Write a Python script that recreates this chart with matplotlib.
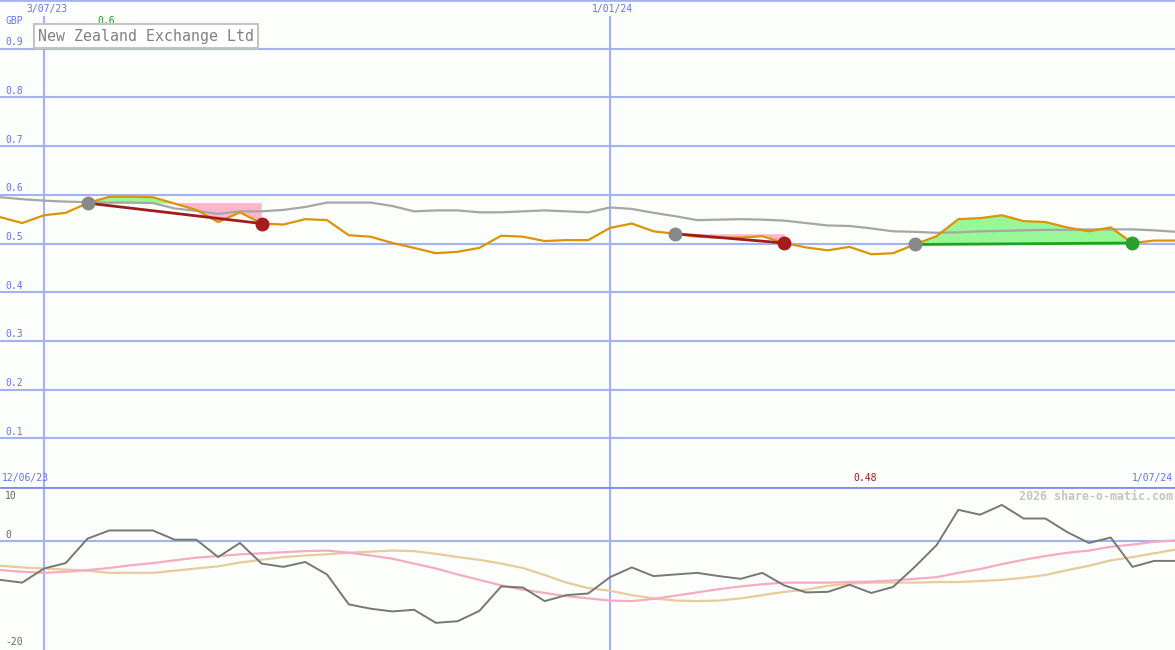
import matplotlib.pyplot as plt
import numpy as np

# -------------------------
# Data (weekly, week 0 = 3/07/23)
# -------------------------
weeks = np.arange(-2, 53)

price = [0.554, 0.542, 0.558, 0.563, 0.583, 0.596, 0.596, 0.595, 0.582, 0.569,
         0.544, 0.564, 0.541, 0.539, 0.550, 0.548, 0.517, 0.514, 0.501, 0.491,
         0.480, 0.483, 0.491, 0.516, 0.514, 0.505, 0.507, 0.507, 0.532, 0.541,
         0.525, 0.520, 0.514, 0.512, 0.512, 0.515, 0.501, 0.492, 0.486, 0.493,
         0.478, 0.480, 0.498, 0.515, 0.550, 0.552, 0.558, 0.546, 0.544, 0.533,
         0.525, 0.533, 0.501, 0.506, 0.506]

avg = [0.595, 0.591, 0.588, 0.586, 0.585, 0.584, 0.584, 0.583, 0.572, 0.567,
       0.561, 0.566, 0.566, 0.569, 0.575, 0.584, 0.584, 0.584, 0.577, 0.566,
       0.568, 0.568, 0.564, 0.564, 0.566, 0.568, 0.566, 0.564, 0.574, 0.571,
       0.563, 0.556, 0.548, 0.549, 0.550, 0.549, 0.547, 0.542, 0.537, 0.536,
       0.531, 0.525, 0.524, 0.522, 0.523, 0.525, 0.526, 0.527, 0.528, 0.528,
       0.529, 0.529, 0.529, 0.527, 0.524]

momentum = [-7.1, -7.6, -5.0, -4.0, 0.5, 2.0, 2.0, 2.0, 0.3, 0.3,
            -2.9, -0.3, -4.1, -4.7, -3.8, -6.1, -11.6, -12.4, -12.9, -12.6,
            -15.0, -14.7, -12.8, -8.3, -8.5, -11.0, -9.9, -9.6, -6.6, -4.8,
            -6.4, -6.1, -5.8, -6.4, -6.9, -5.8, -8.1, -9.4, -9.3, -8.0,
            -9.5, -8.4, -4.7, -0.7, 5.8, 4.9, 6.7, 4.2, 4.2, 1.7,
            -0.3, 0.7, -4.7, -3.6, -3.6]

mom_fast = [-5.3, -5.6, -5.8, -5.6, -5.3, -4.9, -4.4, -4.0, -3.5, -3.0,
            -2.7, -2.4, -2.2, -2.0, -1.8, -1.7, -2.1, -2.6, -3.2, -4.1,
            -5.0, -6.1, -7.1, -8.1, -8.9, -9.5, -10.1, -10.5, -10.9, -11.0,
            -10.6, -10.0, -9.4, -8.8, -8.3, -7.9, -7.6, -7.6, -7.6, -7.5,
            -7.4, -7.2, -6.9, -6.6, -5.8, -5.1, -4.2, -3.4, -2.7, -2.1,
            -1.7, -1.0, -0.6, -0.1, 0.2]

mom_slow = [-4.5, -4.8, -5.0, -5.2, -5.4, -5.8, -5.8, -5.8, -5.4, -5.0,
            -4.6, -3.9, -3.4, -2.9, -2.6, -2.4, -2.1, -1.9, -1.7, -1.8,
            -2.3, -2.9, -3.4, -4.1, -4.9, -6.2, -7.6, -8.6, -9.1, -9.9,
            -10.5, -10.9, -11.0, -10.9, -10.5, -9.9, -9.3, -8.9, -8.2, -7.8,
            -7.6, -7.6, -7.6, -7.5, -7.5, -7.3, -7.1, -6.7, -6.2, -5.3,
            -4.5, -3.5, -2.9, -2.2, -1.5]

# trade signals: start week, end week
sig_start = [2, 29, 40]
sig_end = [10, 34, 50]

price_ticks = [0.1, 0.2, 0.3, 0.4, 0.5, 0.6, 0.7, 0.8, 0.9]
price_tick_labels = ['0.1', '0.2', '0.3', '0.4', '0.5', '0.6', '0.7', '0.8', '0.9']
date_lines = [0, 26]
date_labels = ['3/07/23', '1/01/24']

price = np.array(price)

# -------------------------
# Style
# -------------------------
bg = '#fbfefb'
grid_c = '#a4b2f4'
sep_c = '#7d8cf0'
lab_c = '#6474ec'
mono = 'DejaVu Sans Mono'

fig = plt.figure(figsize=(11.75, 6.5), dpi=100, facecolor=bg)
ax = fig.add_axes([0, 163 / 650, 1, 487 / 650])
ax2 = fig.add_axes([0, 0, 1, 163 / 650])

xlim = (-44 / 21.77, (1175 - 44) / 21.77)
for a in (ax, ax2):
    a.set_facecolor(bg)
    a.set_xlim(*xlim)
    a.set_axis_off()

ax.set_ylim(0, 1.0)
ax2.set_ylim(-20, 10)

# -------------------------
# Grid
# -------------------------
for t in price_ticks:
    ax.axhline(t, color=grid_c, lw=1.5, zorder=0)
ax.axhline(1.0, color=grid_c, lw=2, zorder=0)
for w in date_lines:
    ax.axvline(w, ymax=0.966, color=grid_c, lw=1.5, zorder=0)
    ax2.axvline(w, color=grid_c, lw=1.5, zorder=0)
ax2.axhline(0, color=grid_c, lw=1.5, zorder=0)
ax2.axhline(10, color=sep_c, lw=2, zorder=5)

ytr = ax.get_yaxis_transform()
for t, lbl in zip(price_ticks, price_tick_labels):
    ax.text(0.0045, t + 0.003, lbl, transform=ytr, ha='left', va='bottom',
            color=lab_c, fontsize=7, family=mono)
ax.text(0.0045, 0.957, 'GBP', transform=ytr, ha='left', va='center',
        color=lab_c, fontsize=7, family=mono)
ax.text(97 / 1175, 0.957, '0.6', transform=ytr, ha='left', va='center',
        color='#22a022', fontsize=7, family=mono)

xtr = ax.get_xaxis_transform()
for w, lbl in zip(date_lines, date_labels):
    ax.text(w + 0.12, 0.982, lbl, transform=xtr, ha='center', va='center',
            color=lab_c, fontsize=7, family=mono)

ax.text(0.002, 0.0185, '12/06/23', transform=ax.transAxes, ha='left', va='center',
        color=lab_c, fontsize=7, family=mono, zorder=6)
ax.text(865 / 1175, 0.0185, '0.48', transform=ax.transAxes, ha='center', va='center',
        color='#a01818', fontsize=7, family=mono)
ax.text(0.998, 0.0185, '1/07/24', transform=ax.transAxes, ha='right', va='center',
        color=lab_c, fontsize=7, family=mono)

fig.text(38 / 1175, 1 - 36 / 650, 'New Zealand Exchange Ltd', ha='left', va='center',
         color='#808080', fontsize=10.7, family=mono,
         bbox=dict(boxstyle='square,pad=0.3', fc='white', ec='#c4c4c4', lw=1.5))

# -------------------------
# Price panel
# -------------------------
for s, e in zip(sig_start, sig_end):
    i0, i1 = s + 2, e + 2
    xs = weeks[i0:i1 + 1]
    ys = price[i0:i1 + 1]
    level = price[i0]
    ax.fill_between(xs, ys, level, where=ys >= level, interpolate=True,
                    color='#98f898', lw=0, zorder=1)
    ax.fill_between(xs, ys, level, where=ys <= level, interpolate=True,
                    color='#ffb6cb', lw=0, zorder=1)

ax.plot(weeks, avg, color='#a6a6a6', lw=1.6, zorder=2)
ax.plot(weeks, price, color='#dc9406', lw=1.6, zorder=3)

for s, e in zip(sig_start, sig_end):
    i0, i1 = s + 2, e + 2
    gain = price[i1] > price[i0]
    c_line = '#22a022' if gain else '#a01c1c'
    ax.plot([weeks[i0], weeks[i1]], [price[i0], price[i1]], color=c_line,
            lw=2, zorder=4)
    ax.plot(weeks[i0], price[i0], 'o', color='#888888', ms=9, zorder=5)
    ax.plot(weeks[i1], price[i1], 'o', color='#2aa02a' if gain else '#a51c1c',
            ms=9, zorder=5)

# -------------------------
# Momentum panel
# -------------------------
ax2.plot(weeks, mom_slow, color='#e6cc9a', lw=1.6, zorder=2)
ax2.plot(weeks, mom_fast, color='#f8aac4', lw=1.6, zorder=2)
ax2.plot(weeks, momentum, color='#777777', lw=1.4, zorder=3)

ax2.text(5 / 1175, 8.4, '10', transform=ax2.get_yaxis_transform(), ha='left',
         va='center', color='#666666', fontsize=7, family=mono)
ax2.text(5 / 1175, 1.1, '0', transform=ax2.get_yaxis_transform(), ha='left',
         va='center', color='#666666', fontsize=7, family=mono)
ax2.text(5 / 1175, -18.6, '-20', transform=ax2.get_yaxis_transform(), ha='left',
         va='center', color='#666666', fontsize=7, family=mono)
ax2.text(0.998, 8.3, '2026 share-o-matic.com', transform=ax2.get_yaxis_transform(),
         ha='right', va='center', color='#c4c4c4', fontsize=8.4, family=mono,
         fontweight='bold')

plt.savefig('out.png', dpi=100, facecolor=bg)
